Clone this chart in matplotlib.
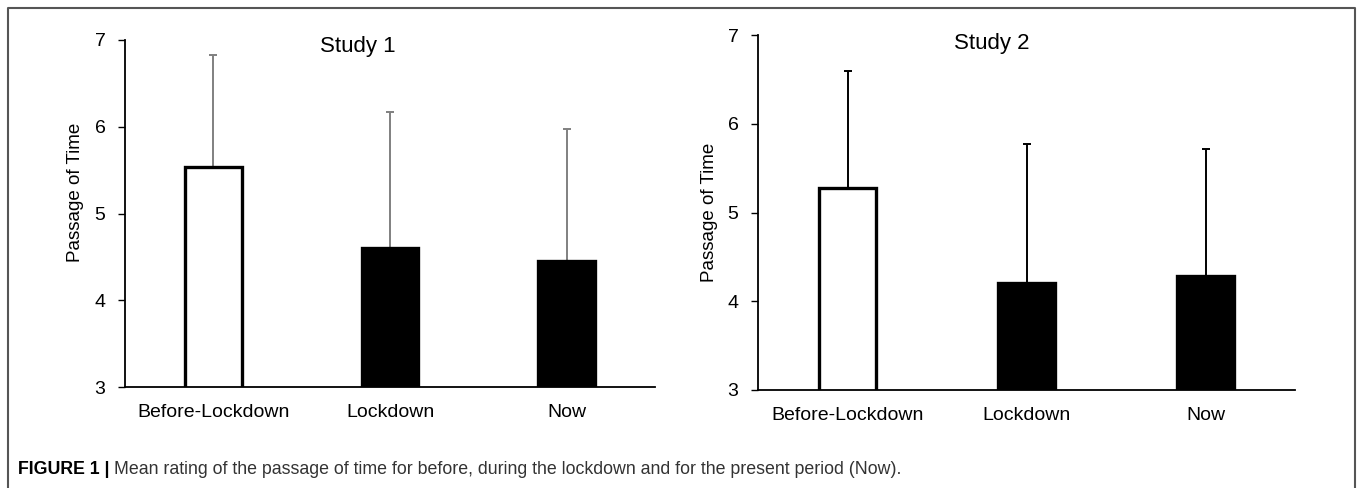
import matplotlib
matplotlib.use("Agg")
import matplotlib.pyplot as plt
from matplotlib.lines import Line2D

plt.rcParams["font.family"] = ["Liberation Sans", "DejaVu Sans"]

categories = ["Before-Lockdown", "Lockdown", "Now"]

# Study 1 (mean, upper SD)
study1_mean = [5.54, 4.60, 4.45]
study1_err = [1.29, 1.57, 1.52]
# Study 2
study2_mean = [5.28, 4.21, 4.28]
study2_err = [1.32, 1.56, 1.44]

bar_faces = ["white", "black", "black"]
yticks = [3, 4, 5, 6, 7]

W, H = 1357, 488
fig = plt.figure(figsize=(W / 100, H / 100), dpi=100)


def px_axes(x0, x1, ytop, ybot):
    return fig.add_axes([x0 / W, 1 - ybot / H, (x1 - x0) / W, (ybot - ytop) / H])


def draw_panel(ax, means, errs, ecolor, title, title_x, title_y):
    xs = range(len(categories))
    ax.bar(xs, means, width=0.32, bottom=0, color=bar_faces,
           edgecolor="black", linewidth=2.4, zorder=2)
    ax.errorbar(xs, means, yerr=[[0] * len(errs), errs], fmt="none",
                ecolor=ecolor, elinewidth=1.4, capsize=3, capthick=1.4, zorder=1)
    ax.set_ylim(3, 7)
    ax.set_xlim(-0.5, 2.5)
    ax.set_yticks(yticks)
    ax.set_xticks(list(xs))
    ax.set_xticklabels(categories, fontsize=14)
    ax.tick_params(axis="x", length=0, pad=12)
    ax.tick_params(axis="y", length=5, width=1, pad=9, labelsize=14)
    for s in ("top", "right"):
        ax.spines[s].set_visible(False)
    for s in ("left", "bottom"):
        ax.spines[s].set_linewidth(1.3)
    ax.set_ylabel("Passage of Time", fontsize=13.5)
    ax.text(title_x, title_y, title, transform=ax.transAxes, ha="center",
            va="center", fontsize=16)


ax1 = px_axes(125, 655, 40, 387)
draw_panel(ax1, study1_mean, study1_err, "#808080", "Study 1", 0.44, 0.98)
ax1.yaxis.set_label_coords(-0.078, 0.56)

ax2 = px_axes(758, 1295, 35, 390)
draw_panel(ax2, study2_mean, study2_err, "black", "Study 2", 0.435, 0.975)
ax2.yaxis.set_label_coords(-0.075, 0.50)

# outer frame (open at bottom)
x0, x1, yt = 8 / W, 1355 / W, 1 - 8 / H
fig.add_artist(Line2D([x0, x0, x1, x1], [0, yt, yt, 0], transform=fig.transFigure,
                      color="#555555", linewidth=1.5))

t1 = fig.text(18 / W, 1 - 469 / H, "FIGURE 1 |", fontsize=12.8, fontweight="bold",
              va="center", ha="left")
ax1.annotate("Mean rating of the passage of time for before, during the lockdown "
             "and for the present period (Now).",
             xy=(1, 0.5), xycoords=t1, xytext=(3, 0), textcoords="offset points",
             va="center", ha="left", fontsize=12.8, color="#333333",
             annotation_clip=False)

fig.savefig("out.png", dpi=100)
